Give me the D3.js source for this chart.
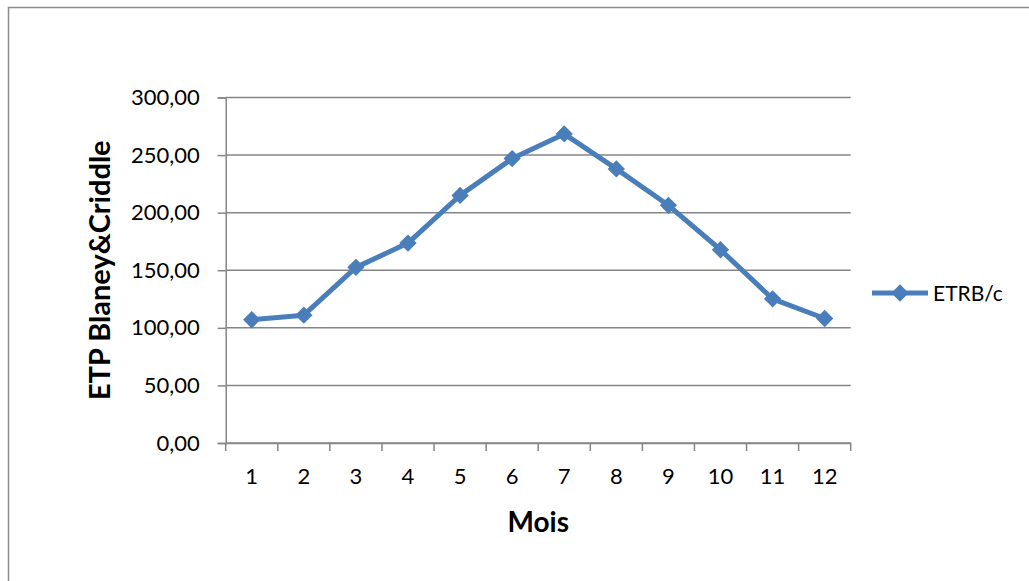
<!DOCTYPE html>
<html><head><meta charset="utf-8">
<script src="https://cdn.jsdelivr.net/npm/d3@7"></script>
<style>body{margin:0;background:#fff}svg{display:block}</style>
</head><body>
<script>
const months = ["1","2","3","4","5","6","7","8","9","10","11","12"];
const etrValues = [107.0, 111.0, 152.5, 173.6, 215.0, 247.0, 268.4, 238.0, 206.4, 167.8, 125.2, 108.1];
const yTicks = [0, 50, 100, 150, 200, 250, 300];
const seriesName = "ETRB/c";
const xTitle = "Mois";
const yTitle = "ETP Blaney&Criddle";

const W = 1029, H = 581;
const font = "Lato, 'Open Sans', sans-serif";
const blue = "#4A7EBB", grid = "#868686";
const svg = d3.select("body").append("svg").attr("width", W).attr("height", H);

svg.append("rect").attr("x", 8.5).attr("y", 7.5).attr("width", W + 10).attr("height", H + 10)
  .attr("fill", "#fff").attr("stroke", "#8c8c8c").attr("stroke-width", 1.5);

const pL = 225.7, pR = 850.7, pT = 97.5, pB = 443;
const x = d3.scaleBand().domain(months).range([pL, pR]);
const y = d3.scaleLinear().domain([0, 300]).range([pB, pT]);

// gridlines
svg.append("g").selectAll("line").data(yTicks).join("line")
  .attr("x1", pL).attr("x2", pR).attr("y1", d => y(d)).attr("y2", d => y(d))
  .attr("stroke", grid).attr("stroke-width", 1.5);

// y axis
const yAxis = svg.append("g").attr("transform", `translate(${pL},0)`)
  .call(d3.axisLeft(y).tickValues(yTicks).tickSize(8).tickPadding(18)
    .tickFormat(d => d3.format(".2f")(d).replace(".", ",")));
yAxis.select(".domain").attr("stroke", grid).attr("stroke-width", 1.5);
yAxis.selectAll(".tick line").attr("stroke", grid).attr("stroke-width", 1.5);
yAxis.selectAll("text").attr("font-family", font).attr("font-size", 22).attr("fill", "#000");

// x axis
const xAxis = svg.append("g").attr("transform", `translate(0,${pB})`)
  .call(d3.axisBottom(x).tickSize(0).tickPadding(25));
xAxis.select(".domain").attr("stroke", grid).attr("stroke-width", 1.5);
xAxis.selectAll("text").attr("font-family", font).attr("font-size", 22).attr("fill", "#000");
const bounds = months.map(m => x(m)).concat([pR]);
svg.append("g").selectAll("line").data(bounds).join("line")
  .attr("x1", d => d).attr("x2", d => d).attr("y1", pB).attr("y2", pB + 8)
  .attr("stroke", grid).attr("stroke-width", 1.5);

// series
const cx = d => x(d) + x.bandwidth() / 2;
const data = months.map((m, i) => ({m, v: etrValues[i]}));
svg.append("path").datum(data)
  .attr("d", d3.line().x(d => cx(d.m)).y(d => y(d.v)))
  .attr("fill", "none").attr("stroke", blue).attr("stroke-width", 5).attr("stroke-linejoin", "round");
svg.append("g").selectAll("path").data(data).join("path")
  .attr("transform", d => `translate(${cx(d.m)},${y(d.v)}) rotate(45)`)
  .attr("d", d3.symbol().type(d3.symbolSquare).size(150))
  .attr("fill", blue);

// titles
svg.append("text").attr("x", (pL + pR) / 2).attr("y", 532)
  .attr("text-anchor", "middle").attr("font-family", font).attr("font-weight", "bold")
  .attr("font-size", 28).text(xTitle);
svg.append("text").attr("transform", `translate(110,${(pT + pB) / 2}) rotate(-90)`)
  .attr("text-anchor", "middle").attr("font-family", font).attr("font-weight", "bold")
  .attr("font-size", 29).text(yTitle);

// legend
const ly = 293;
svg.append("line").attr("x1", 872).attr("x2", 928).attr("y1", ly).attr("y2", ly)
  .attr("stroke", blue).attr("stroke-width", 5);
svg.append("path").attr("transform", `translate(900,${ly}) rotate(45)`)
  .attr("d", d3.symbol().type(d3.symbolSquare).size(150)).attr("fill", blue);
svg.append("text").attr("x", 933).attr("y", ly + 7.5).attr("font-family", font)
  .attr("font-size", 21).text(seriesName);
</script>
</body></html>
